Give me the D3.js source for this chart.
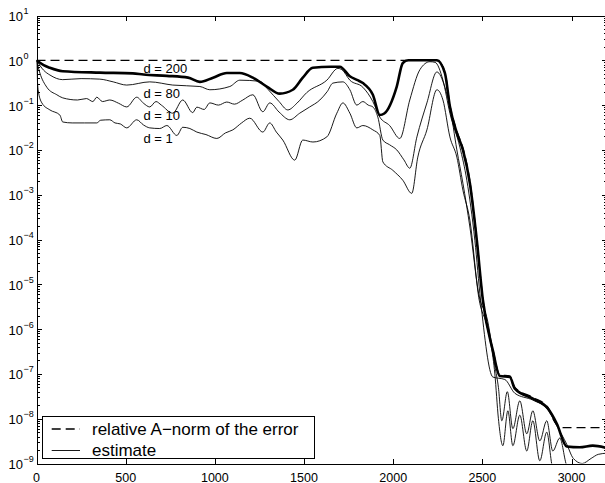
<!DOCTYPE html>
<html>
<head>
<meta charset="utf-8">
<script src="https://cdn.jsdelivr.net/npm/d3@7"></script>
<style>
  body { margin: 0; background: #fff; }
  text { font-family: "Liberation Sans", Arial, Helvetica, sans-serif; fill: #000; }
</style>
</head>
<body>
<div id="chart"></div>
<script>
// iteration vs value

// relative A-norm of the error (dashed)
const errNorm = [[0,1],[2245,1],[2290,0.55],[2318,0.1],[2357,0.026],[2391,0.011],[2430,0.002],[2469,1e-4],[2503,4.6e-6],[2559,3.5e-7],[2598,9.5e-8],[2654,9e-8],[2682,5e-8],[2783,3e-8],[2867,1.8e-8],[2895,1e-8],[2925,6.8e-9],[2960,6.3e-9],[3200,6.3e-9]];

// estimate, d = 200 (thick)
const est200 = [[0,1.0],[40,0.78],[75,0.68],[147,0.57],[355,0.53],[540,0.51],[600,0.48],[731,0.45],[850,0.41],[916,0.33],[990,0.41],[1067,0.52],[1140,0.52],[1213,0.41],[1291,0.26],[1364,0.18],[1437,0.22],[1493,0.41],[1549,0.68],[1650,0.72],[1701,0.72],[1757,0.44],[1800,0.36],[1830,0.31],[1886,0.17],[1925,0.06],[1950,0.065],[2020,0.26],[2054,0.87],[2085,1.0],[2245,1.0],[2290,0.52],[2318,0.093],[2357,0.024],[2391,0.01],[2430,0.0018],[2469,9.5e-5],[2503,4.4e-6],[2559,3.3e-7],[2598,9e-8],[2654,8.5e-8],[2682,4.7e-8],[2783,2.8e-8],[2867,1.7e-8],[2917,7.8e-9],[2973,2.4e-9],[3046,2.3e-9],[3119,2.5e-9],[3200,2.2e-9]];

// estimate, d = 80
const est80 = [[0,1.0],[40,0.6],[75,0.47],[147,0.37],[250,0.39],[355,0.38],[430,0.33],[506,0.28],[635,0.33],[764,0.28],[916,0.26],[972,0.22],[1084,0.26],[1140,0.36],[1252,0.34],[1300,0.22],[1360,0.12],[1409,0.078],[1460,0.11],[1515,0.19],[1628,0.36],[1690,0.66],[1712,0.62],[1757,0.36],[1830,0.25],[1886,0.12],[1925,0.054],[1980,0.035],[2037,0.018],[2093,0.13],[2150,0.62],[2206,0.93],[2235,0.9],[2279,0.36],[2318,0.066],[2374,0.0115],[2413,0.0021],[2458,9.5e-5],[2490,4.4e-6],[2559,8.5e-8],[2626,7.5e-8],[2682,3.7e-8],[2783,2.6e-8],[2867,1.6e-8],[2917,7e-9],[2973,2.7e-9],[3010,1.3e-9],[3060,1e-9],[3110,1.3e-9],[3150,1.6e-9],[3200,1.7e-9]];

// estimate, d = 10
const est10 = [[0,1.0],[19,0.52],[58,0.25],[114,0.17],[147,0.145],[230,0.13],[280,0.14],[316,0.12],[338,0.15],[370,0.12],[411,0.13],[460,0.11],[506,0.091],[562,0.15],[600,0.11],[635,0.091],[670,0.12],[700,0.1],[764,0.066],[820,0.13],[876,0.068],[899,0.09],[940,0.08],[972,0.112],[1020,0.1],[1067,0.117],[1110,0.105],[1157,0.13],[1213,0.17],[1269,0.071],[1308,0.112],[1360,0.07],[1420,0.047],[1476,0.066],[1530,0.09],[1589,0.13],[1630,0.2],[1662,0.31],[1718,0.33],[1757,0.22],[1796,0.1],[1830,0.12],[1860,0.1],[1886,0.091],[1914,0.054],[1942,0.0166],[1980,0.013],[2020,0.01],[2060,0.006],[2093,0.0039],[2133,0.0195],[2189,0.112],[2245,0.55],[2290,0.25],[2318,0.09],[2357,0.01],[2391,0.0018],[2430,1.9e-4],[2480,6e-6],[2530,1.5e-6],[2570,1.5e-7],[2590,5e-8],[2609,9e-9],[2640,4e-8],[2671,6e-9],[2710,2.5e-8],[2749,4.6e-9],[2783,1.5e-8],[2822,3.2e-9],[2861,9e-9],[2895,1.9e-9],[2934,3.7e-9],[2973,9e-10],[3000,7e-10]];

// estimate, d = 1
const est1 = [[0,1.0],[9,0.22],[30,0.112],[75,0.078],[131,0.06],[147,0.042],[200,0.04],[270,0.04],[338,0.04],[360,0.046],[411,0.047],[440,0.04],[470,0.038],[506,0.031],[562,0.047],[600,0.036],[635,0.031],[691,0.03],[731,0.035],[787,0.021],[820,0.032],[860,0.03],[899,0.025],[950,0.022],[1011,0.018],[1060,0.024],[1101,0.028],[1150,0.04],[1196,0.051],[1269,0.025],[1308,0.04],[1345,0.025],[1381,0.0166],[1448,0.0059],[1493,0.0166],[1550,0.015],[1628,0.0195],[1684,0.066],[1718,0.112],[1757,0.066],[1796,0.031],[1830,0.035],[1886,0.028],[1925,0.021],[1942,0.0054],[1998,0.0035],[2054,0.0021],[2104,0.00107],[2138,0.0069],[2189,0.028],[2245,0.22],[2279,0.13],[2318,0.0195],[2357,0.0069],[2391,0.00126],[2430,2.7e-4],[2480,5e-6],[2530,1e-6],[2570,1e-7],[2590,1e-8],[2615,2.5e-9],[2643,1.5e-8],[2671,2.5e-9],[2710,1.2e-8],[2749,1.9e-9],[2783,9e-9],[2822,1.15e-9],[2861,5e-9],[2895,8e-10],[2920,7e-10]];

// curve labels: text, iteration, value at baseline
const curveLabels = [["d = 200", 600, 0.52], ["d = 80", 600, 0.145], ["d = 10", 600, 0.047], ["d = 1", 600, 0.014]];

const xTicks = [0, 500, 1000, 1500, 2000, 2500, 3000];
const yExps = [-9, -8, -7, -6, -5, -4, -3, -2, -1, 0, 1];
const legendItems = ["relative A\u2212norm of the error", "estimate"];

// svg
const width = 605, height = 483;
const svg = d3.select("#chart")
    .append("svg")
    .attr("width", width)
    .attr("height", height);

// scales
const x = d3.scaleLinear().domain([0, 3200]).range([36.5, 607.2]);
const y = d3.scaleLog().domain([1e-9, 10]).range([463.5, 15.5]);

// minor ticks 2..9 in each decade
const yMinor = [];
for (let e = -9; e < 1; e++) {
    for (let k = 2; k <= 9; k++) yMinor.push(k * Math.pow(10, e));
}
const yMajor = yExps.map(e => Math.pow(10, e));

// clip for the lines
svg.append("clipPath").attr("id", "clip")
    .append("rect")
    .attr("x", x(0)).attr("y", y(10))
    .attr("width", x(3200) - x(0))
    .attr("height", y(1e-9) - y(10));

const line = d3.line()
    .x(d => x(d[0]))
    .y(d => y(d[1]))
    .curve(d3.curveMonotoneX);

const plot = svg.append("g").attr("clip-path", "url(#clip)");

plot.append("path")
    .datum(errNorm)
    .attr("fill", "none")
    .attr("stroke", "#000")
    .attr("stroke-width", 1.3)
    .attr("stroke-dasharray", "9,5")
    .attr("d", line);

[est1, est10, est80].forEach(s => {
    plot.append("path")
        .datum(s)
        .attr("fill", "none")
        .attr("stroke", "#000")
        .attr("stroke-width", 0.9)
        .attr("stroke-linejoin", "round")
        .attr("d", line);
});

plot.append("path")
    .datum(est200)
    .attr("fill", "none")
    .attr("stroke", "#000")
    .attr("stroke-width", 2.6)
    .attr("stroke-linejoin", "round")
    .attr("d", line);

// axes, ticks pointing inward
function styleAxis(g) {
    g.selectAll("path, line").attr("stroke", "#000").attr("shape-rendering", "crispEdges");
    g.selectAll("text").remove();
}

svg.append("g")
    .attr("transform", `translate(0,${y(1e-9)})`)
    .call(d3.axisBottom(x).tickValues(xTicks).tickSize(-5).tickSizeOuter(0))
    .call(styleAxis);

svg.append("g")
    .attr("transform", `translate(0,${y(10)})`)
    .call(d3.axisTop(x).tickValues(xTicks).tickSize(-5).tickSizeOuter(0))
    .call(styleAxis);

svg.append("g")
    .attr("transform", `translate(${x(0)},0)`)
    .call(d3.axisLeft(y).tickValues(yMajor).tickSize(-5).tickSizeOuter(0))
    .call(styleAxis);

svg.append("g")
    .attr("transform", `translate(${x(0)},0)`)
    .call(d3.axisLeft(y).tickValues(yMinor).tickSize(-3).tickSizeOuter(0))
    .call(styleAxis);

svg.append("g")
    .attr("transform", `translate(${x(3200)},0)`)
    .call(d3.axisRight(y).tickValues(yMajor).tickSize(-5).tickSizeOuter(0))
    .call(styleAxis);

svg.append("g")
    .attr("transform", `translate(${x(3200)},0)`)
    .call(d3.axisRight(y).tickValues(yMinor).tickSize(-3).tickSizeOuter(0))
    .call(styleAxis);

// x tick labels (kept just inside the bottom edge)
svg.selectAll(".xlab")
    .data(xTicks)
    .enter()
    .append("text")
    .attr("x", d => x(d))
    .attr("y", 481.5)
    .attr("text-anchor", "middle")
    .style("font-size", "12.5px")
    .text(d => d);

// y tick labels, 10 with superscript
yExps.forEach(e => {
    const yy = y(Math.pow(10, e));
    svg.append("text")
        .attr("x", 23)
        .attr("y", yy + 5.5)
        .attr("text-anchor", "end")
        .style("font-size", "13px")
        .text("10");
    svg.append("text")
        .attr("x", 23.5)
        .attr("y", yy - 1.5)
        .style("font-size", "9px")
        .text(e < 0 ? "\u2212" + (-e) : e);
});

// curve labels
curveLabels.forEach(l => {
    svg.append("text")
        .attr("x", x(l[1]))
        .attr("y", y(l[2]))
        .style("font-size", "13px")
        .text(l[0]);
});

// legend
const legend = svg.append("g");
legend.append("rect")
    .attr("x", 42.5).attr("y", 416.5)
    .attr("width", 272).attr("height", 42)
    .attr("fill", "#fff")
    .attr("stroke", "#000")
    .attr("shape-rendering", "crispEdges");

legendItems.forEach((name, i) => {
    const ly = 429 + i * 21.5;
    legend.append("line")
        .attr("x1", 51.7).attr("x2", 80)
        .attr("y1", ly).attr("y2", ly)
        .attr("stroke", "#000")
        .attr("stroke-width", i === 0 ? 1.3 : 0.9)
        .attr("stroke-dasharray", i === 0 ? "9,5" : null);
    legend.append("text")
        .attr("x", 92)
        .attr("y", ly + 5.5)
        .style("font-size", "17px")
        .text(name);
});
</script>
</body>
</html>
